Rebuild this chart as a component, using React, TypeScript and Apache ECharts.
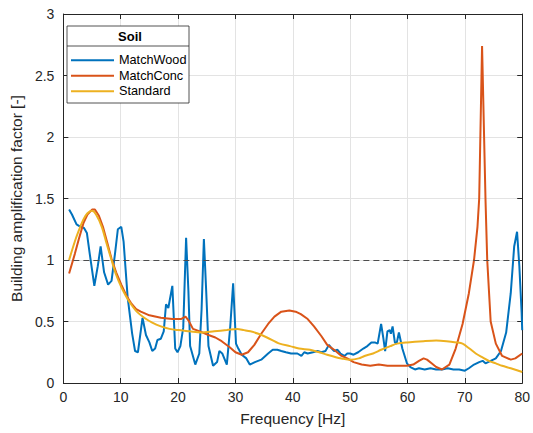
import React, { useEffect, useRef } from "react";
import * as echarts from "echarts";

const woodFreq = [1.0,1.5,2.3,3.0,3.6,4.1,4.6,5.4,6.0,6.5,7.1,7.8,8.4,9.0,9.5,10.1,10.5,11.2,12.0,12.5,13.0,13.8,14.4,15.0,15.5,16.0,16.4,17.0,17.5,17.9,18.3,19.0,19.5,19.9,20.4,20.9,21.4,21.8,22.1,23.0,23.7,24.1,24.5,24.9,25.3,26.1,26.8,27.2,27.7,28.5,29.1,29.6,30.1,30.5,31.1,31.9,32.5,33.4,34.5,35.7,36.5,37.3,38.0,38.8,39.7,40.8,41.5,42.0,42.6,43.5,44.3,45.0,45.7,46.3,46.8,47.2,47.8,48.3,49.0,49.5,50.0,50.6,51.4,52.3,53.0,53.7,54.3,54.8,55.4,55.8,56.1,56.5,56.9,57.1,57.4,57.8,58.1,58.5,59.1,59.9,60.5,61.3,62.0,63.0,64.0,65.0,66.0,67.0,68.0,69.0,70.0,70.7,71.6,72.5,73.1,73.6,74.5,75.4,76.3,77.2,78.0,78.6,79.1,79.5,79.9,80.0];
const woodAmp = [1.41,1.37,1.29,1.27,1.26,1.22,1.05,0.79,0.95,1.11,0.90,0.80,0.83,1.05,1.25,1.27,1.15,0.70,0.40,0.26,0.25,0.53,0.39,0.33,0.26,0.28,0.35,0.36,0.42,0.64,0.61,0.79,0.28,0.25,0.30,0.45,1.18,0.75,0.30,0.15,0.24,0.60,1.17,0.75,0.30,0.14,0.17,0.26,0.24,0.15,0.46,0.81,0.32,0.28,0.23,0.20,0.15,0.17,0.19,0.24,0.27,0.27,0.26,0.25,0.24,0.24,0.22,0.25,0.24,0.25,0.26,0.25,0.26,0.31,0.28,0.26,0.27,0.24,0.22,0.24,0.24,0.23,0.25,0.28,0.30,0.33,0.33,0.32,0.48,0.36,0.26,0.42,0.43,0.40,0.46,0.33,0.32,0.41,0.28,0.16,0.13,0.11,0.12,0.11,0.12,0.11,0.11,0.12,0.11,0.11,0.10,0.12,0.15,0.17,0.18,0.16,0.18,0.20,0.26,0.41,0.73,1.11,1.23,0.95,0.57,0.43];

const concFreq = [1.0,2.0,2.7,3.5,4.2,5.0,5.5,6.2,6.9,7.6,8.4,9.2,10.1,11.0,11.8,12.7,13.5,15.0,17.0,19.0,20.5,21.3,21.8,22.6,23.8,25.3,26.5,27.6,29.0,30.0,31.1,32.2,33.3,34.5,35.7,36.8,38.0,39.4,40.5,41.4,42.6,43.7,45.0,46.0,47.2,48.5,49.5,50.6,52.0,53.5,55.0,56.5,58.0,59.9,61.0,62.0,62.8,63.4,64.2,65.0,66.0,67.3,68.4,69.6,70.7,71.6,72.2,72.5,73.0,73.6,73.9,74.5,75.4,76.5,78.0,78.8,80.0];
const concAmp = [0.89,1.05,1.17,1.30,1.37,1.41,1.41,1.36,1.27,1.15,1.01,0.90,0.80,0.71,0.65,0.60,0.58,0.55,0.53,0.52,0.52,0.54,0.51,0.44,0.42,0.39,0.37,0.34,0.29,0.25,0.23,0.25,0.31,0.40,0.48,0.54,0.58,0.59,0.58,0.56,0.52,0.46,0.38,0.31,0.27,0.22,0.20,0.17,0.15,0.14,0.15,0.14,0.14,0.14,0.15,0.18,0.20,0.19,0.16,0.13,0.11,0.15,0.28,0.48,0.73,1.00,1.27,1.50,2.74,1.49,1.00,0.50,0.32,0.22,0.19,0.20,0.24];

const stdFreq = [1.0,2.0,2.7,3.5,4.2,5.0,5.7,6.7,7.5,8.4,9.2,10.1,11.0,11.8,12.8,14.1,15.5,17.0,18.5,20.0,22.0,24.0,26.3,28.5,30.3,31.5,32.6,34.0,35.5,37.7,39.5,41.1,43.0,44.6,46.0,47.5,48.5,50.0,51.5,52.5,54.0,55.4,57.0,58.2,60.0,62.8,65.0,66.8,68.5,69.6,70.8,71.9,73.0,74.2,75.4,76.5,78.0,80.0];
const stdAmp = [1.00,1.15,1.24,1.33,1.38,1.40,1.37,1.27,1.14,1.00,0.88,0.78,0.70,0.64,0.58,0.53,0.49,0.46,0.44,0.43,0.42,0.41,0.42,0.43,0.44,0.43,0.42,0.40,0.37,0.32,0.30,0.28,0.27,0.25,0.23,0.21,0.20,0.19,0.20,0.22,0.24,0.27,0.30,0.32,0.33,0.34,0.345,0.34,0.33,0.32,0.28,0.24,0.21,0.18,0.16,0.14,0.12,0.09];

const seriesNames = ["MatchWood", "MatchConc", "Standard"];
const seriesColors = ["#0072BD", "#D95319", "#EDB120"];
const legendTitle = "Soil";
const xTitle = "Frequency [Hz]";
const yTitle = "Building amplification factor [-]";
const referenceLevel = 1;

const zip = (a: number[], b: number[]) => a.map((v, i) => [v, b[i]]);

export default function App() {
  const ref = useRef<HTMLDivElement>(null);
  useEffect(() => {
    if (!ref.current) return;
    const chart = echarts.init(ref.current, undefined, { renderer: "svg" });
    const axisColor = "#262626";
    const gridColor = "#e3e3e3";
    const font = "Liberation Sans, Arial, Helvetica, sans-serif";
    const baseX = {
      type: "value" as const,
      min: 0,
      max: 80,
      interval: 10,
      axisLine: { show: true, onZero: false, lineStyle: { color: axisColor, width: 1 } },
      axisTick: { show: true, inside: true, length: 5, lineStyle: { color: axisColor } },
    };
    const baseY = {
      type: "value" as const,
      min: 0,
      max: 3,
      interval: 0.5,
      axisLine: { show: true, onZero: false, lineStyle: { color: axisColor, width: 1 } },
      axisTick: { show: true, inside: true, length: 5, lineStyle: { color: axisColor } },
    };
    const datas = [zip(woodFreq, woodAmp), zip(concFreq, concAmp), zip(stdFreq, stdAmp)];
    chart.setOption({
      animation: false,
      backgroundColor: "#ffffff",
      textStyle: { fontFamily: font },
      grid: { left: 56, right: 10, top: 14, bottom: 50, containLabel: false },
      xAxis: [
        {
          ...baseX,
          position: "bottom",
          axisLabel: { color: axisColor, fontSize: 14, margin: 7, fontFamily: font },
          splitLine: { show: true, lineStyle: { color: gridColor, width: 1 } },
          name: xTitle,
          nameLocation: "middle",
          nameGap: 27,
          nameTextStyle: { color: axisColor, fontSize: 15.5, fontFamily: font },
        },
        {
          ...baseX,
          position: "top",
          axisLabel: { show: false },
          splitLine: { show: false },
        },
      ],
      yAxis: [
        {
          ...baseY,
          position: "left",
          axisLabel: { color: axisColor, fontSize: 14, margin: 9, fontFamily: font },
          splitLine: { show: true, lineStyle: { color: gridColor, width: 1 } },
          name: yTitle,
          nameLocation: "middle",
          nameGap: 30,
          nameTextStyle: { color: axisColor, fontSize: 15.5, fontFamily: font },
        },
        {
          ...baseY,
          position: "right",
          axisLabel: { show: false },
          splitLine: { show: false },
        },
      ],
      legend: {
        orient: "vertical",
        left: 71,
        top: 53.5,
        padding: 0,
        itemWidth: 43,
        itemHeight: 2,
        itemGap: 2,
        icon: "rect",
        z: 10,
        data: seriesNames.map((n) => ({ name: n, icon: "rect" })),
        textStyle: { color: "#000", fontSize: 12.7, fontFamily: font, lineHeight: 13.5 },
      },
      graphic: [
        {
          type: "rect",
          z: 9,
          shape: { x: 67, y: 26, width: 122, height: 77 },
          style: { fill: "#ffffff", stroke: axisColor, lineWidth: 0.8 },
        },
        {
          type: "line",
          z: 9,
          shape: { x1: 67, y1: 46, x2: 189, y2: 46 },
          style: { stroke: axisColor, lineWidth: 0.8 },
        },
        {
          type: "text",
          z: 10,
          x: 130,
          y: 36,
          style: {
            text: legendTitle,
            fill: "#000",
            font: "bold 13px " + font,
            textAlign: "center",
            textVerticalAlign: "middle",
          },
        },
      ],
      series: seriesNames.map((name, i) => ({
        name,
        type: "line",
        data: datas[i],
        symbol: "none",
        showSymbol: false,
        smooth: i === 2 ? 0.3 : false,
        lineStyle: { color: seriesColors[i], width: 2 },
        itemStyle: { color: seriesColors[i] },
        z: 2 + i,
        markLine:
          i === 0
            ? {
                silent: true,
                symbol: "none",
                label: { show: false },
                lineStyle: { color: "#4d4d4d", type: [6, 4], width: 1 },
                data: [{ yAxis: referenceLevel }],
              }
            : undefined,
      })),
    });
    return () => chart.dispose();
  }, []);
  return (
    <div
      ref={ref}
      style={{ position: "absolute", left: 0, top: 0, width: 533, height: 433 }}
    />
  );
}
